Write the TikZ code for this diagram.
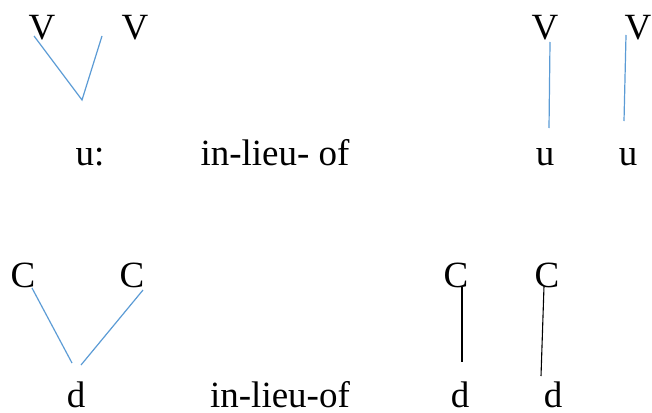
\documentclass[tikz,border=0pt]{standalone}
\usepackage{fontspec}
\setmainfont{Liberation Serif}
\definecolor{lineblue}{RGB}{91,155,213}
\begin{document}
\begin{tikzpicture}[x=1pt,y=-1pt,
  lbl/.style={anchor=base,inner sep=0pt,text depth=0pt,font=\fontsize{37}{40}\selectfont},
  bline/.style={draw=lineblue,line width=1.2pt},
  kline/.style={draw=black,line width=1.1pt}]
\useasboundingbox (0,0) rectangle (652,412);
% top row
\node[lbl] (v1) at (42,40) {V};
\node[lbl] (v2) at (135,40) {V};
\node[lbl] (ulong) at (90,165) {u:};
\node[lbl] (ilo1) at (275,165) {in-lieu- of};
\node[lbl] (v3) at (545,40) {V};
\node[lbl] (v4) at (638,40) {V};
\node[lbl] (u1) at (545,165) {u};
\node[lbl] (u2) at (628,165) {u};
\coordinate (a1) at (34,36);
\coordinate (a2) at (82,100);
\coordinate (a3) at (102,36);
\draw[bline] (a1) -- (a2) -- (a3);
\coordinate (b1) at (550,42);
\coordinate (b2) at (549,128);
\coordinate (b3) at (626,35);
\coordinate (b4) at (624,121);
\draw[bline] (b1) -- (b2);
\draw[bline] (b3) -- (b4);
% bottom row
\node[lbl] (c1) at (23,287) {C};
\node[lbl] (c2) at (132,287) {C};
\node[lbl] (d0) at (76,407) {d};
\node[lbl] (ilo2) at (280,407) {in-lieu-of};
\node[lbl] (c3) at (456,287) {C};
\node[lbl] (c4) at (547,287) {C};
\node[lbl] (d1) at (460,407) {d};
\node[lbl] (d2) at (553,407) {d};
\coordinate (e1) at (32,288);
\coordinate (e2) at (72,363);
\coordinate (e3) at (143,290);
\coordinate (e4) at (81,365);
\draw[bline] (e1) -- (e2);
\draw[bline] (e3) -- (e4);
\coordinate (f1) at (462,287);
\coordinate (f2) at (462,362);
\coordinate (f3) at (544,286);
\coordinate (f4) at (541,376);
\draw[kline] (f1) -- (f2);
\draw[kline] (f3) -- (f4);
\end{tikzpicture}
\end{document}
